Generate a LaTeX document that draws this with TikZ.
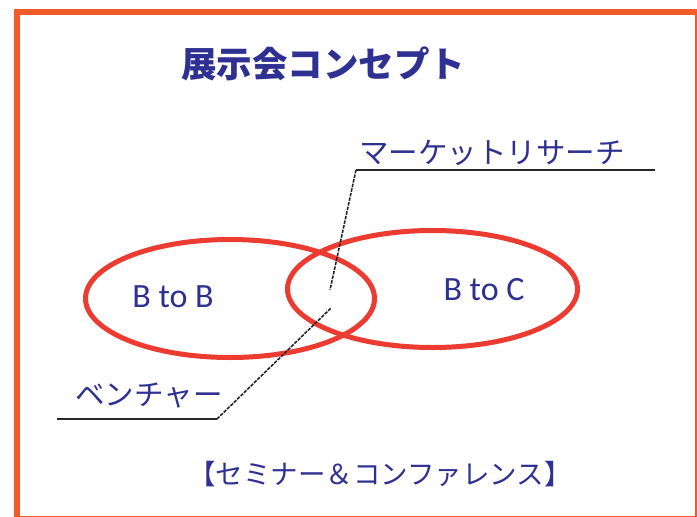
\documentclass[tikz,border=0pt]{standalone}
\usepackage{fontspec}
\newfontfamily\cjk{Noto Sans CJK JP}
\newfontfamily\latin{Carlito}
\definecolor{frameorange}{RGB}{241,90,41}
\definecolor{ellred}{RGB}{236,60,50}
\definecolor{txtblue}{RGB}{46,49,146}
\tikzset{
  lbl/.style={text=txtblue, inner sep=0pt},
  leader/.style={draw=black!85, line width=1.6pt},
  leaderdash/.style={draw=black!85, line width=1.6pt, dash pattern=on 3.5pt off 1.2pt},
}
\begin{document}
\begin{tikzpicture}[x=1pt,y=-1pt]
\useasboundingbox (0,0) rectangle (697,517);
\clip (0,0) rectangle (697,517);
\fill[white] (0,0) rectangle (697,517);
% frame
\draw[frameorange, line width=6pt] (16.5,12.3) rectangle (698,518.5);
% title
\node[lbl, font=\cjk\bfseries\fontsize{35.5}{35.5}\selectfont] (title) at (323,64) {展示会コンセプト};
% ellipses
\draw[draw=ellred, line width=5pt] (230,298.5) ellipse [x radius=144.5, y radius=59];
\draw[draw=ellred, line width=5pt] (432.5,289) ellipse [x radius=145, y radius=58.5];
\node[lbl, font=\latin\fontsize{34}{34}\selectfont] (btob) at (173,297) {B to B};
\node[lbl, font=\latin\fontsize{34}{34}\selectfont] (btoc) at (484,290) {B to C};
% labels
\node[lbl, font=\cjk\fontsize{29.5}{29.5}\selectfont] (mr) at (492,153) {マーケットリサーチ};
\node[lbl, font=\cjk\fontsize{29.5}{29.5}\selectfont] (vent) at (149,395) {ベンチャー};
\node[lbl, font=\cjk\fontsize{27.5}{27.5}\selectfont] (sem) at (380,474) {【セミナー＆コンファレンス】};
% leaders
\coordinate (mrEnd) at (655,170);
\coordinate (mrBend) at (356,170);
\coordinate (mrTip) at (330,290);
\coordinate (vEnd) at (57,419);
\coordinate (vBend) at (217,419);
\coordinate (vTip) at (331,308);
\draw[leader] (mrEnd) -- (mrBend);
\draw[leaderdash] (mrBend) -- (mrTip);
\draw[leader] (vEnd) -- (vBend);
\draw[leaderdash] (vBend) -- (vTip);
\end{tikzpicture}
\end{document}
